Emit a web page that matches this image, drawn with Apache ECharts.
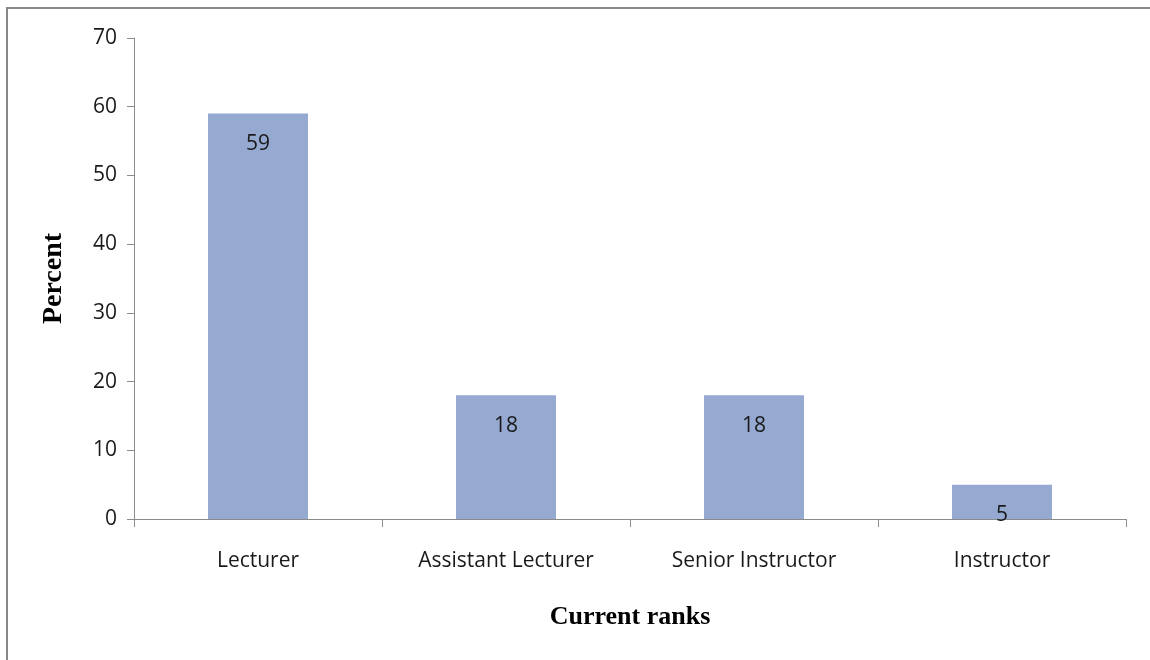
<!DOCTYPE html>
<html>
<head>
<meta charset="utf-8">
<script src="https://cdn.jsdelivr.net/npm/echarts@6/dist/echarts.min.js"></script>
<style>
  html, body { margin: 0; padding: 0; background: #fff; }
  #chart { width: 1150px; height: 660px; }
</style>
</head>
<body>
<div id="chart"></div>
<script>
// Share of staff by current academic rank (percent)
const categories = ['Lecturer', 'Assistant Lecturer', 'Senior Instructor', 'Instructor'];
const percentValues = [59, 18, 18, 5];
const yTicks = { min: 0, max: 70, interval: 10 };

const chart = echarts.init(document.getElementById('chart'));
const axisGray = '#8c8c8c';
const textColor = '#1a1a1a';
const labelFont = '"Open Sans", "Liberation Sans", sans-serif';
const titleFont = '"Liberation Serif", "DejaVu Serif", serif';

chart.setOption({
  animation: false,
  backgroundColor: '#ffffff',
  graphic: [
    // frame along the top and left edges
    { type: 'line', shape: { x1: 6, y1: 8, x2: 1150, y2: 8 }, style: { stroke: '#888888', lineWidth: 2 } },
    { type: 'line', shape: { x1: 7, y1: 7, x2: 7, y2: 660 }, style: { stroke: '#888888', lineWidth: 2 } }
  ],
  grid: { left: 134, right: 24, top: 38, bottom: 141 },
  xAxis: {
    type: 'category',
    data: categories,
    name: 'Current ranks',
    nameLocation: 'middle',
    nameGap: 85,
    nameTextStyle: { fontFamily: titleFont, fontWeight: 'bold', fontSize: 26, color: '#000' },
    axisLine: { lineStyle: { color: axisGray, width: 1 } },
    axisTick: { show: true, length: 8, alignWithLabel: false, lineStyle: { color: axisGray } },
    axisLabel: { fontFamily: labelFont, fontSize: 21, color: textColor, margin: 32 }
  },
  yAxis: {
    type: 'value',
    min: yTicks.min,
    max: yTicks.max,
    interval: yTicks.interval,
    name: 'Percent',
    nameLocation: 'middle',
    nameGap: 66,
    nameRotate: 90,
    nameTextStyle: { fontFamily: titleFont, fontWeight: 'bold', fontSize: 28, color: '#000' },
    axisLine: { show: true, lineStyle: { color: axisGray, width: 1 } },
    axisTick: { show: true, length: 7, lineStyle: { color: axisGray } },
    splitLine: { show: false },
    axisLabel: { fontFamily: labelFont, fontSize: 21, color: textColor, margin: 17 }
  },
  series: [{
    type: 'bar',
    data: percentValues,
    barWidth: 100,
    itemStyle: { color: '#95a9d1' },
    label: {
      show: true,
      position: 'insideTop',
      distance: 20,
      fontFamily: labelFont,
      fontSize: 21,
      color: textColor
    }
  }]
});
</script>
</body>
</html>
